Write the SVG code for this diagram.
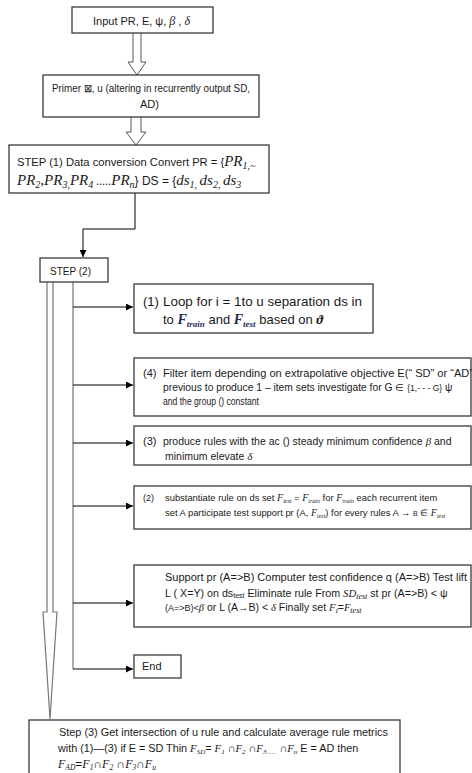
<svg xmlns="http://www.w3.org/2000/svg" width="472" height="773" viewBox="0 0 472 773">
<style>
.box{fill:#fff;stroke:#3a3a3a;stroke-width:1.3}
.hollow{fill:#fff;stroke:#555;stroke-width:1}
.conn{fill:none;stroke:#000;stroke-width:1}
.grey{fill:none;stroke:#888;stroke-width:1.4}
.t{font-family:"Liberation Sans",Arial,sans-serif;fill:#1a1a1a}
.m{font-family:"Liberation Serif","Times New Roman",serif;font-style:italic}
.mb{font-family:"Liberation Serif","Times New Roman",serif;font-style:italic;font-weight:bold}
</style>
<defs>
<marker id="ah" viewBox="0 0 8 8" refX="8" refY="4" markerWidth="7" markerHeight="7" markerUnits="userSpaceOnUse" orient="auto">
<path d="M0,0 L8,4 L0,8 Z" fill="#000"/>
</marker>
</defs>
<rect width="472" height="773" fill="#fff"/>

<g id="connectors">
<path class="hollow" d="M133,33 V62 H128 L137,75 L146,62 H141 V33"/>
<path class="hollow" d="M131,117 V132 H126 L136,145 L146,132 H141 V117"/>
<path class="conn" d="M135,193 V229 H83 V257" marker-end="url(#ah)"/>
<path class="hollow" d="M47,282 V612 H43 L50,719 L57,612 H53 V282" style="stroke:#777;stroke-width:1.2"/>
<path class="grey" d="M73,282 V669"/>
<path class="conn" d="M73,307 H133" marker-end="url(#ah)"/>
<path class="conn" d="M73,385 H133" marker-end="url(#ah)"/>
<path class="conn" d="M73,443 H133" marker-end="url(#ah)"/>
<path class="conn" d="M73,506 H133" marker-end="url(#ah)"/>
<path class="conn" d="M73,603 H133" marker-end="url(#ah)"/>
<path class="conn" d="M73,669 H133" marker-end="url(#ah)"/>
</g>

<g id="input">
<rect class="box" x="72" y="7" width="141" height="26"/>
<text class="t" x="93" y="25" font-size="11">Input PR, E, ψ, <tspan class="m" font-size="12">β</tspan> , <tspan class="m" font-size="12">δ</tspan></text>
</g>

<g id="primer">
<rect class="box" x="43" y="75" width="216" height="42"/>
<text class="t" x="52" y="92" font-size="11" textLength="198" lengthAdjust="spacingAndGlyphs">Primer ⊠, u (altering in recurrently output SD,</text>
<text class="t" x="140" y="108" font-size="11">AD)</text>
</g>

<g id="step1">
<rect class="box" x="9" y="145" width="260" height="48"/>
<text class="t" x="17" y="166" font-size="11.2">STEP (1) Data conversion Convert PR = {<tspan class="m" font-size="15">PR</tspan><tspan class="m" font-size="10" dy="3">1,~</tspan></text>
<text class="t" x="17" y="185" font-size="12"><tspan class="m" font-size="15">PR</tspan><tspan class="m" font-size="10" dy="3">2</tspan><tspan class="m" font-size="15" dy="-3">,PR</tspan><tspan class="m" font-size="10" dy="3">3,</tspan><tspan class="m" font-size="15" dy="-3">PR</tspan><tspan class="m" font-size="10" dy="3">4</tspan><tspan class="m" font-size="12" dy="-3"> .....</tspan><tspan class="m" font-size="15">PR</tspan><tspan class="m" font-size="10" dy="3">n</tspan><tspan dy="-3">}  DS = {</tspan><tspan class="m" font-size="15">ds</tspan><tspan class="m" font-size="10" dy="3">1, </tspan><tspan class="m" font-size="15" dy="-3">ds</tspan><tspan class="m" font-size="10" dy="3">2, </tspan><tspan class="m" font-size="15" dy="-3">ds</tspan><tspan class="m" font-size="10" dy="3">3</tspan></text>
</g>

<g id="step2">
<rect class="box" x="40" y="258" width="68" height="24"/>
<text class="t" x="50" y="275" font-size="11" textLength="41" lengthAdjust="spacingAndGlyphs">STEP (2)</text>
</g>

<g id="loop">
<rect class="box" x="134" y="284" width="239" height="49"/>
<text class="t" x="143" y="306" font-size="13">(1)</text>
<text class="t" x="163" y="306" font-size="13" textLength="199" lengthAdjust="spacingAndGlyphs">Loop for i = 1to u separation ds in</text>
<text class="t" x="163" y="324" font-size="13">to <tspan class="mb" fill="#1f2a5a" font-size="14">F</tspan><tspan class="mb" fill="#1f2a5a" font-size="9" dy="3">train</tspan><tspan dy="-3"> and </tspan><tspan class="mb" fill="#1f2a5a" font-size="14">F</tspan><tspan class="mb" fill="#1f2a5a" font-size="9" dy="3">test</tspan><tspan dy="-3"> based on </tspan><tspan class="mb" font-size="13">ϑ</tspan></text>
</g>

<g id="filter">
<rect class="box" x="134" y="358" width="337" height="58"/>
<text class="t" x="143" y="377" font-size="11">(4)</text>
<text class="t" x="163" y="377" font-size="11" textLength="310" lengthAdjust="spacingAndGlyphs">Filter item depending on extrapolative objective E(“ SD” or “AD”</text>
<text class="t" x="163" y="391" font-size="10.3">previous to produce 1 – item sets investigate for G ∈ <tspan font-size="8.5">{1,- - - G}</tspan> ψ</text>
<text class="t" x="163" y="405" font-size="11" textLength="96" lengthAdjust="spacingAndGlyphs">and the group () constant</text>
</g>

<g id="produce">
<rect class="box" x="134" y="426" width="337" height="39"/>
<text class="t" x="143" y="445" font-size="11">(3)</text>
<text class="t" x="163" y="445" font-size="10.5">produce rules with the ac () steady minimum confidence <tspan class="m" font-size="11">β</tspan> and</text>
<text class="t" x="165" y="460" font-size="10.5">minimum elevate <tspan class="m" font-size="11">δ</tspan></text>
</g>

<g id="substantiate">
<rect class="box" x="134" y="486" width="337" height="43"/>
<text class="t" x="143" y="501" font-size="9">(2)</text>
<text class="t" x="165" y="501" font-size="9.4">substantiate rule on ds set <tspan class="m" font-size="10">F</tspan><tspan class="m" font-size="6" dy="2">test</tspan><tspan dy="-2"> = </tspan><tspan class="m" font-size="10">F</tspan><tspan class="m" font-size="6" dy="2">train</tspan><tspan dy="-2"> for </tspan><tspan class="m" font-size="10">F</tspan><tspan class="m" font-size="6" dy="2">train</tspan><tspan dy="-2">  each recurrent item</tspan></text>
<text class="t" x="165" y="516" font-size="9.4">set A participate test support pr (A, <tspan class="m" font-size="10">F</tspan><tspan class="m" font-size="6" dy="2">test</tspan><tspan dy="-2">)  for every rules A → </tspan><tspan font-size="7">B</tspan> ∈ <tspan class="m" font-size="10">F</tspan><tspan class="m" font-size="6" dy="2">test</tspan></text>
</g>

<g id="support">
<rect class="box" x="134" y="565" width="337" height="62"/>
<text class="t" x="165" y="581" font-size="11" textLength="302" lengthAdjust="spacingAndGlyphs">Support pr (A=&gt;B) Computer test confidence q (A=&gt;B) Test lift</text>
<text class="t" x="165" y="597" font-size="10.7">L ( X=Y) on ds<tspan font-size="7" dy="1">test</tspan><tspan dy="-1"> Eliminate rule From </tspan><tspan class="m">SD</tspan><tspan class="m" font-size="8" dy="2">test</tspan><tspan dy="-2">  st pr (A=&gt;B) &lt; ψ</tspan></text>
<text class="t" x="165" y="611" font-size="10.5"><tspan font-size="9">(A=&gt;B)&lt;</tspan><tspan class="m">β</tspan>  or L (A→B) &lt; <tspan class="m">δ</tspan>  Finally set <tspan class="m">F</tspan><tspan class="m" font-size="7" dy="2">I</tspan><tspan dy="-2">=</tspan><tspan class="m">F</tspan><tspan class="m" font-size="8" dy="2">test</tspan></text>
</g>

<g id="end">
<rect class="box" x="134" y="655" width="47" height="23"/>
<text class="t" x="142" y="670" font-size="11">End</text>
</g>

<g id="step3">
<rect class="box" x="29" y="720" width="371" height="66"/>
<text class="t" x="59" y="736" font-size="11" textLength="329" lengthAdjust="spacingAndGlyphs">Step (3) Get intersection of u rule and calculate average rule metrics</text>
<text class="t" x="58" y="752" font-size="10.8">with (1)—(3) if E = SD Thin <tspan class="m">F</tspan><tspan class="m" font-size="7" dy="2">SD</tspan><tspan dy="-2">= </tspan><tspan class="m">F</tspan><tspan class="m" font-size="7" dy="2">1</tspan><tspan dy="-2"> ∩</tspan><tspan class="m">F</tspan><tspan class="m" font-size="7" dy="2">2</tspan><tspan dy="-2"> ∩</tspan><tspan class="m">F</tspan><tspan class="m" font-size="7" dy="2">3</tspan><tspan font-size="6">......</tspan><tspan dy="-2"> ∩</tspan><tspan class="m">F</tspan><tspan class="m" font-size="7" dy="2">u</tspan><tspan dy="-2"> E = AD then</tspan></text>
<text class="t" x="58" y="768" font-size="12"><tspan class="m">F</tspan><tspan class="m" font-size="7.5" dy="2">AD</tspan><tspan dy="-2">=</tspan><tspan class="m">F</tspan><tspan class="m" font-size="7.5" dy="2">1</tspan><tspan dy="-2">∩</tspan><tspan class="m">F</tspan><tspan class="m" font-size="7.5" dy="2">2</tspan><tspan dy="-2"> ∩</tspan><tspan class="m">F</tspan><tspan class="m" font-size="7.5" dy="2">3</tspan><tspan dy="-2">∩</tspan><tspan class="m">F</tspan><tspan class="m" font-size="7.5" dy="2">u</tspan></text>
</g>
</svg>
